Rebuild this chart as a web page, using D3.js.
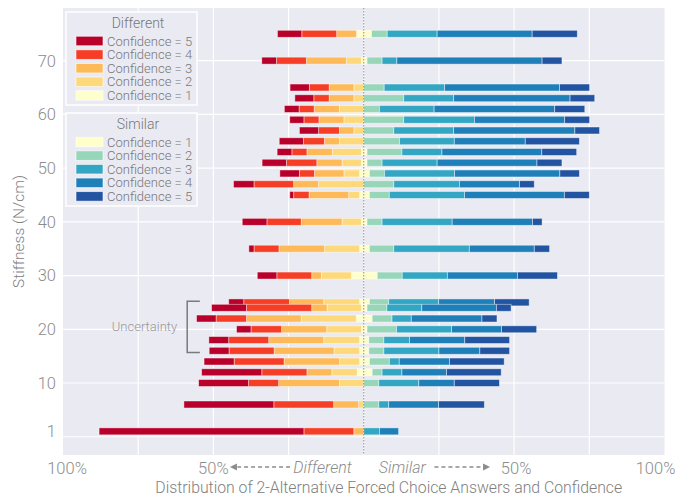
<!DOCTYPE html>
<html>
<head>
<meta charset="utf-8">
<script src="https://cdn.jsdelivr.net/npm/d3@7"></script>
<style>
  body { margin: 0; background: #fff; }
  text { font-family: Roboto, "Liberation Sans", sans-serif; font-weight: 300; }
</style>
</head>
<body>
<div id="chart"></div>
<script>
// stiffness levels (N/cm) and share of answers per confidence level, in %
let stiffness = [1, 6, 10, 12, 14, 16, 18, 20, 22, 24, 25, 30, 35, 40, 45, 47, 49, 51, 53, 55, 57, 59, 61, 63, 65, 70, 75];

let diff5 = [68.1, 29.9, 16.6, 20.0, 10.0, 6.6, 6.6, 4.8, 6.5, 11.6, 5.0, 6.5, 1.7, 8.2, 1.3, 6.8, 6.5, 8.1, 4.9, 8.1, 6.4, 4.7, 4.9, 6.3, 6.4, 4.9, 8.1];
let diff4 = [16.6, 19.9, 10.0, 15.0, 16.6, 15.0, 13.3, 10.2, 10.1, 21.7, 15.2, 11.6, 8.3, 11.4, 5.1, 13.2, 5.0, 10.1, 5.0, 6.9, 6.9, 5.0, 5.0, 5.1, 6.6, 9.9, 11.6];
let diff3 = [3.3, 8.3, 20.2, 8.3, 18.5, 19.9, 18.3, 15.0, 18.2, 5.1, 11.4, 3.2, 15.2, 13.6, 13.2, 8.3, 9.8, 8.4, 8.4, 5.0, 4.8, 8.3, 8.4, 8.2, 8.2, 13.3, 6.6];
let diff2 = [0, 1.7, 8.1, 8.4, 6.6, 8.5, 11.9, 11.5, 18.3, 11.4, 11.9, 10.0, 11.6, 6.4, 3.6, 15.0, 5.2, 6.4, 9.7, 8.1, 3.3, 6.6, 8.1, 3.3, 3.3, 5.0, 0];
let diff1 = [0, 0, 0, 2.2, 1.4, 1.4, 1.4, 0.8, 2.5, 0.8, 1.4, 4.1, 1.4, 0.8, 1.4, 0, 1.4, 0.8, 0.8, 0, 0, 0, 0, 0, 0, 0.8, 2.4];

let sim1 = [0, 0, 0, 2.8, 1.9, 1.7, 1.7, 1.1, 2.8, 1.1, 1.9, 4.5, 1.9, 1.1, 1.9, 0, 1.9, 1.1, 1.1, 0, 0, 0, 0, 0, 0, 1.1, 2.6];
let sim2 = [0, 5.0, 5.0, 3.3, 6.6, 5.0, 5.0, 9.8, 6.6, 6.6, 6.4, 8.3, 8.1, 5.0, 6.6, 10.0, 5.0, 5.0, 11.6, 11.9, 10.0, 13.3, 5.2, 13.3, 6.8, 5.0, 5.2];
let sim3 = [5.2, 3.3, 13.3, 6.6, 3.3, 18.3, 8.5, 18.3, 6.4, 11.6, 16.6, 15.0, 25.1, 23.3, 25.0, 21.8, 23.3, 18.3, 13.3, 18.2, 19.9, 23.5, 18.2, 16.6, 20.1, 4.9, 16.6];
let sim4 = [6.4, 16.6, 11.8, 14.8, 16.7, 13.6, 18.4, 16.6, 23.5, 24.8, 18.6, 23.3, 21.6, 26.7, 33.2, 20.0, 35.0, 33.2, 33.2, 23.6, 40.3, 30.0, 40.1, 38.7, 38.2, 48.3, 31.6];
let sim5 = [0, 15.2, 15.0, 18.2, 18.2, 9.9, 14.9, 11.7, 5.0, 4.9, 11.5, 13.3, 5.1, 3.2, 8.3, 4.9, 6.5, 8.3, 11.6, 18.0, 8.2, 8.3, 10.0, 8.2, 10.0, 6.6, 15.0];

let yTicks = [1, 10, 20, 30, 40, 50, 60, 70];
let xTickValues = [-1, -0.5, 0.5, 1];
let xTickLabels = ['100%', '50%', '50%', '100%'];

let diffLabels = ['Confidence = 5', 'Confidence = 4', 'Confidence = 3', 'Confidence = 2', 'Confidence = 1'];
let simLabels = ['Confidence = 1', 'Confidence = 2', 'Confidence = 3', 'Confidence = 4', 'Confidence = 5'];
let diffColors = ['#b8002b', '#f63d26', '#feba59', '#fed97b', '#ffffcc'];
let simColors = ['#ffffcc', '#97d6b9', '#33a6c3', '#1f80b9', '#2354a2'];

function draw_chart() {
    let width = 689, height = 498;
    let svg = d3.select('#chart').append('svg')
        .attr('width', width)
        .attr('height', height);

    let x = d3.scaleLinear().domain([-1, 1]).range([63, 664.5]);
    let y = d3.scaleLinear().domain([-3.4, 79.8]).range([455, 8]);
    let barH = y(0) - y(1.3);

    // panel + grid
    svg.append('rect')
        .attr('x', x(-1)).attr('y', y(79.8))
        .attr('width', x(1) - x(-1)).attr('height', y(-3.4) - y(79.8))
        .attr('fill', '#eaeaf2');

    svg.append('g').selectAll('line')
        .data(d3.range(-0.75, 1, 0.25))
        .enter().append('line')
        .attr('x1', d => x(d)).attr('x2', d => x(d))
        .attr('y1', y(79.8)).attr('y2', y(-3.4))
        .attr('stroke', '#fff').attr('stroke-width', 1.2);

    svg.append('g').selectAll('line')
        .data(d3.range(0, 71, 10))
        .enter().append('line')
        .attr('x1', x(-1)).attr('x2', x(1))
        .attr('y1', d => y(d)).attr('y2', d => y(d))
        .attr('stroke', '#fff').attr('stroke-width', 1.2);

    // build segments for each stiffness level
    let rows = stiffness.map((s, i) => {
        let left = [diff1[i], diff2[i], diff3[i], diff4[i], diff5[i]];
        let right = [sim1[i], sim2[i], sim3[i], sim4[i], sim5[i]];
        let segs = [];
        let acc = 0;
        left.forEach((v, k) => {
            segs.push({x0: -(acc + v) / 100, x1: -acc / 100, color: diffColors[4 - k]});
            acc += v;
        });
        acc = 0;
        right.forEach((v, k) => {
            segs.push({x0: acc / 100, x1: (acc + v) / 100, color: simColors[k]});
            acc += v;
        });
        return {s: s, segs: segs.filter(d => d.x1 > d.x0)};
    });
    rows.sort((a, b) => b.s - a.s);

    let bars = svg.append('g').attr('class', 'bars')
        .selectAll('g')
        .data(rows)
        .enter().append('g');

    bars.selectAll('rect')
        .data(d => d.segs.map(g => Object.assign({s: d.s}, g)))
        .enter().append('rect')
        .attr('x', d => x(d.x0))
        .attr('width', d => x(d.x1) - x(d.x0))
        .attr('y', d => y(d.s) - barH / 2)
        .attr('height', barH)
        .attr('fill', d => d.color)
        .attr('stroke', 'rgba(255,255,255,0.55)')
        .attr('stroke-width', 0.8);

    // dotted centre line
    svg.append('line')
        .attr('x1', x(0)).attr('x2', x(0))
        .attr('y1', y(79.8)).attr('y2', y(-3.4))
        .attr('stroke', '#8a8a8a').attr('stroke-width', 1)
        .attr('stroke-dasharray', '1.5,1.5');

    // uncertainty bracket
    let bx = x(-0.587), bx2 = x(-0.545);
    svg.append('path')
        .attr('d', `M${bx2},${y(25.2)}H${bx}V${y(15.7)}H${bx2}`)
        .attr('fill', 'none')
        .attr('stroke', '#7a7a7a')
        .attr('stroke-width', 1.5);
    svg.append('text')
        .attr('x', bx - 10).attr('y', y(20.5))
        .attr('dy', '0.35em')
        .attr('text-anchor', 'end')
        .attr('font-size', 13)
        .attr('fill', '#999')
        .text('Uncertainty');

    // y axis
    svg.append('g').selectAll('text')
        .data(yTicks)
        .enter().append('text')
        .attr('x', 56).attr('y', d => y(d))
        .attr('dy', '0.36em')
        .attr('text-anchor', 'end')
        .attr('font-size', 16.5)
        .attr('fill', '#8c8c8c')
        .text(d => d);

    svg.append('text')
        .attr('transform', `translate(24,${(y(79.8) + y(-3.4)) / 2}) rotate(-90)`)
        .attr('text-anchor', 'middle')
        .attr('font-size', 15.5)
        .attr('fill', '#808080')
        .text('Stiffness (N/cm)');

    // x axis labels
    let dxs = [4, 0, 2, -9];
    svg.append('g').selectAll('text')
        .data(xTickValues)
        .enter().append('text')
        .attr('x', (d, i) => x(d) + dxs[i]).attr('y', 474)
        .attr('text-anchor', 'middle')
        .attr('font-size', 16.5)
        .attr('fill', '#8c8c8c')
        .text((d, i) => xTickLabels[i]);

    svg.append('text')
        .attr('x', x(-0.04)).attr('y', 473)
        .attr('text-anchor', 'end')
        .attr('font-size', 16)
        .attr('font-style', 'italic')
        .attr('fill', '#8c8c8c')
        .text('Different');
    svg.append('text')
        .attr('x', x(0.05)).attr('y', 473)
        .attr('text-anchor', 'start')
        .attr('font-size', 16)
        .attr('font-style', 'italic')
        .attr('fill', '#8c8c8c')
        .text('Similar');

    // dashed arrows
    let ay = 467;
    svg.append('line')
        .attr('x1', x(-0.245)).attr('x2', x(-0.42)).attr('y1', ay).attr('y2', ay)
        .attr('stroke', '#8c8c8c').attr('stroke-width', 1.5).attr('stroke-dasharray', '4,3');
    svg.append('path')
        .attr('d', `M${x(-0.445)},${ay}l7,-3.5v7z`)
        .attr('fill', '#8c8c8c');
    svg.append('line')
        .attr('x1', x(0.235)).attr('x2', x(0.40)).attr('y1', ay).attr('y2', ay)
        .attr('stroke', '#8c8c8c').attr('stroke-width', 1.5).attr('stroke-dasharray', '4,3');
    svg.append('path')
        .attr('d', `M${x(0.42)},${ay}l-7,-3.5v7z`)
        .attr('fill', '#8c8c8c');

    svg.append('text')
        .attr('x', (x(-1) + x(1)) / 2 + 25).attr('y', 493)
        .attr('text-anchor', 'middle')
        .attr('font-size', 15.8)
        .attr('fill', '#808080')
        .text('Distribution of 2-Alternative Forced Choice Answers and Confidence');

    draw_legend(svg, 12, 'Different', diffLabels, diffColors);
    draw_legend(svg, 113, 'Similar', simLabels, simColors);
}

function draw_legend(svg, top, title, labels, colors) {
    let g = svg.append('g').attr('transform', `translate(66,${top})`);
    g.append('rect')
        .attr('width', 131).attr('height', 93)
        .attr('fill', '#eaeaf2')
        .attr('stroke', '#fff').attr('stroke-width', 1.5);
    g.append('text')
        .attr('x', 72).attr('y', 11)
        .attr('dy', '0.35em')
        .attr('text-anchor', 'middle')
        .attr('font-size', 14)
        .attr('fill', '#777')
        .text(title);
    let items = g.selectAll('.item')
        .data(labels)
        .enter().append('g')
        .attr('class', 'item')
        .attr('transform', (d, i) => `translate(10,${29 + i * 13.6})`);
    items.append('rect')
        .attr('width', 27).attr('height', 9.5)
        .attr('y', -4.75)
        .attr('fill', (d, i) => colors[i])
        .attr('stroke', 'rgba(255,255,255,0.7)').attr('stroke-width', 0.8);
    items.append('text')
        .attr('x', 31).attr('dy', '0.35em')
        .attr('font-size', 13)
        .attr('fill', '#777')
        .text(d => d);
}

draw_chart();
</script>
</body>
</html>
